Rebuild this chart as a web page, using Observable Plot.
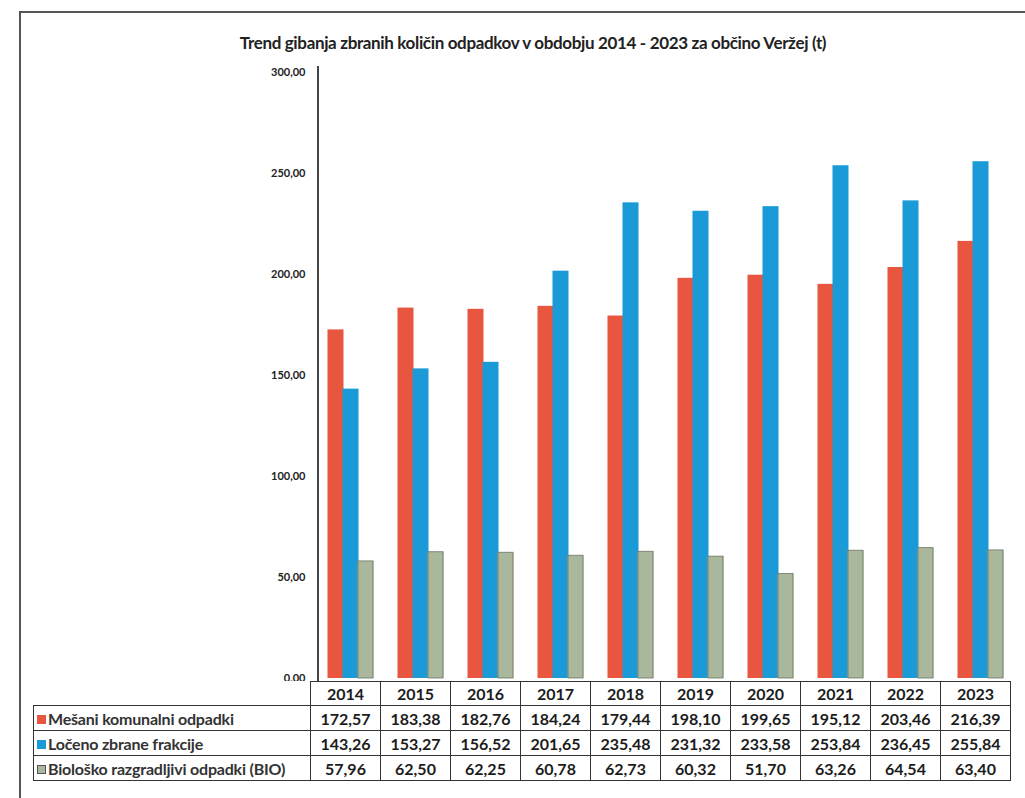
<!DOCTYPE html>
<html>
<head>
<meta charset="utf-8">
<script src="https://cdn.jsdelivr.net/npm/d3@7"></script>
<script src="https://cdn.jsdelivr.net/npm/@observablehq/plot@0.6"></script>
<style>
  html, body { margin: 0; padding: 0; background: #fff; }
  body { width: 1025px; height: 798px; position: relative; overflow: hidden; font-family: "Lato", "Open Sans", sans-serif; }
  #frame { position: absolute; left: 19px; top: 11px; right: -5px; bottom: -5px; border-top: 2px solid #555; border-left: 2px solid #555; }
  #title { position: absolute; top: 32px; left: 228px; width: 610px; text-align: center; font-weight: 700; font-size: 17px; color: #222; letter-spacing: -0.35px; white-space: nowrap; }
  #chart { position: absolute; left: 0; top: 0; }
  #yline { position: absolute; left: 317px; top: 66px; width: 1.5px; height: 616px; background: #444; }
  table { position: absolute; left: 33px; top: 681px; border-collapse: collapse; font-weight: 700; font-size: 16px; color: #1c1c1c; table-layout: fixed; background: #fff; }
  td { border: 1.5px solid #333; height: 24px; padding: 0; text-align: center; white-space: nowrap; }
  td.lab { text-align: left; padding-left: 3px; color: #333; letter-spacing: -0.2px; }
  td.blank { border: none; background: transparent; }
  tr.head td { height: 23px; }
  .sw { display: inline-block; width: 9px; height: 9px; margin-right: 2px; vertical-align: 1px; }
</style>
</head>
<body>
<div id="frame"></div>
<div id="chart"></div>
<div id="yline"></div>
<div id="title">Trend gibanja zbranih količin odpadkov v obdobju 2014 - 2023 za občino Veržej (t)</div>
<table id="tbl"></table>
<script>
const years = ["2014","2015","2016","2017","2018","2019","2020","2021","2022","2023"];
const series = ["Mešani komunalni odpadki", "Ločeno zbrane frakcije", "Biološko razgradljivi odpadki (BIO)"];
const mesani = [172.57, 183.38, 182.76, 184.24, 179.44, 198.10, 199.65, 195.12, 203.46, 216.39];
const loceno = [143.26, 153.27, 156.52, 201.65, 235.48, 231.32, 233.58, 253.84, 236.45, 255.84];
const bio = [57.96, 62.50, 62.25, 60.78, 62.73, 60.32, 51.70, 63.26, 64.54, 63.40];
const colors = ["#e8563f", "#1b9ad8", "#a9b79c"];
const yTicks = [0, 50, 100, 150, 200, 250, 300];

const fmt = v => v.toFixed(2).replace(".", ",");
const valuesBySeries = [mesani, loceno, bio];
const rows = [];
years.forEach((y, i) => series.forEach((s, j) => rows.push({year: y, series: s, value: valuesBySeries[j][i]})));

const chart = Plot.plot({
  width: 1025,
  height: 700,
  marginTop: 72,
  marginBottom: 22,
  marginLeft: 315,
  marginRight: 10,
  style: {background: "transparent", fontFamily: "Lato, sans-serif"},
  fx: {domain: years, paddingInner: 0.33, paddingOuter: 0.165, axis: null, label: null},
  x: {domain: series, padding: 0, axis: null},
  y: {domain: [0, 300], axis: null},
  color: {domain: series, range: colors},
  marks: [
    Plot.axisY({ticks: yTicks, tickSize: 0, tickPadding: 22, tickFormat: fmt, fontSize: 11, fontWeight: 700, fill: "#222", label: null, facetAnchor: "left", style: {letterSpacing: "-0.6px"}}),
    Plot.barY(rows, {fx: "year", x: "series", y: "value", fill: "series", insetLeft: -0.5, insetRight: -0.5}),
    Plot.barY(rows.filter(d => d.series === series[2]), {fx: "year", x: "series", y: "value", fill: "none", stroke: "#6d7568", strokeWidth: 0.8})
  ]
});
document.getElementById("chart").appendChild(chart);

// data table (acts as x axis + legend)
const tbl = document.getElementById("tbl");
const colg = document.createElement("colgroup");
const c0 = document.createElement("col"); c0.style.width = "277px"; colg.appendChild(c0);
years.forEach(() => { const c = document.createElement("col"); c.style.width = "70px"; colg.appendChild(c); });
tbl.appendChild(colg);
const head = document.createElement("tr"); head.className = "head";
const hb = document.createElement("td"); hb.className = "blank"; head.appendChild(hb);
years.forEach(y => { const td = document.createElement("td"); td.textContent = y; head.appendChild(td); });
tbl.appendChild(head);
series.forEach((s, j) => {
  const tr = document.createElement("tr");
  const lab = document.createElement("td"); lab.className = "lab";
  const sw = document.createElement("span"); sw.className = "sw"; sw.style.background = colors[j];
  if (j === 2) { sw.style.border = "1px solid #555"; sw.style.width = "7px"; sw.style.height = "7px"; }
  lab.appendChild(sw);
  lab.appendChild(document.createTextNode(s));
  tr.appendChild(lab);
  valuesBySeries[j].forEach(v => { const td = document.createElement("td"); td.textContent = fmt(v); tr.appendChild(td); });
  tbl.appendChild(tr);
});
</script>
</body>
</html>
